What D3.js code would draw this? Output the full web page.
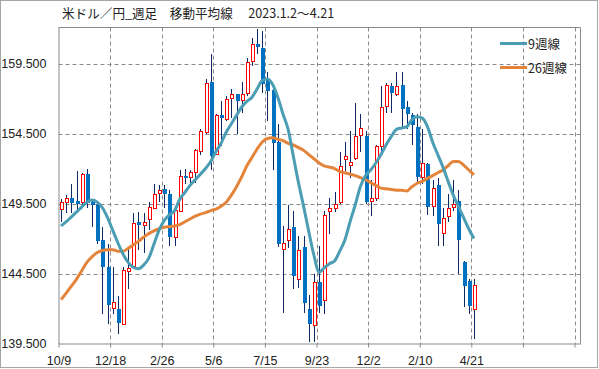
<!DOCTYPE html>
<html>
<head>
<meta charset="utf-8">
<script src="https://cdn.jsdelivr.net/npm/d3@7"></script>
<style>
  html, body { margin: 0; padding: 0; background: #fff; }
  svg { display: block; }
  text { font-family: "Liberation Sans", Arial, sans-serif; fill: #222; }
  .jp { font-family: "Noto Sans CJK JP", sans-serif; }
</style>
</head>
<body>
<div id="chart"></div>
<script>
// USD/JPY weekly candles, 2023-10-09 .. 2025-04-21
const tickLabels = ["10/9", "12/18", "2/26", "5/6", "7/15", "9/23", "12/2", "2/10", "4/21"];
const yTicks = [139.5, 144.5, 149.5, 154.5, 159.5];

const open = [
  149.1, 149.6, 149.9, 149.65, 149.6, 151.6, 149.6, 149.4, 146.9, 145.0,
  142.1, 142.0, 140.9, 144.7, 145.0, 148.15, 147.95, 148.4, 149.2, 150.2,
  150.55, 150.2, 147.1, 149.0, 151.45, 151.4, 151.7, 153.2, 154.6, 158.2,
  153.0, 155.85, 155.6, 157.0, 157.3, 156.9, 157.4, 159.7, 160.9, 160.6,
  158.4, 157.6, 153.9, 146.3, 146.9, 147.8, 144.1, 146.4, 142.0, 140.8,
  143.9, 142.6, 149.0, 149.2, 149.6, 152.7, 152.3, 152.7, 154.4, 154.3,
  149.7, 149.9, 153.6, 156.5, 157.9, 157.3, 157.95, 156.4, 155.8, 155.0,
  151.4, 152.3, 149.3, 150.8, 147.4, 148.6, 149.3, 149.7, 145.3, 144.0,
  141.9
];
const high = [
  149.8, 150.1, 150.9, 151.8, 151.7, 152.0, 149.8, 149.7, 147.8, 146.6,
  145.0, 142.9, 145.0, 146.4, 148.8, 148.9, 148.8, 149.6, 150.9, 150.8,
  150.85, 150.5, 149.2, 151.9, 151.95, 151.9, 153.4, 154.8, 158.4, 160.2,
  155.9, 156.8, 157.2, 157.7, 157.3, 158.2, 159.9, 161.3, 161.95, 161.8,
  158.9, 157.9, 155.2, 147.9, 149.4, 149.0, 147.2, 147.2, 143.0, 144.5,
  146.5, 149.0, 149.9, 150.3, 153.2, 153.9, 154.7, 156.7, 155.9, 154.7,
  151.2, 153.7, 157.9, 158.1, 158.1, 158.9, 158.9, 156.8, 156.0, 155.9,
  154.8, 152.4, 151.2, 151.3, 149.2, 150.2, 151.2, 150.5, 145.4, 144.1,
  144.1
];
const low = [
  148.2, 148.8, 148.8, 148.8, 149.2, 149.2, 147.8, 146.6, 141.6, 140.9,
  141.6, 140.2, 140.8, 143.4, 144.9, 146.2, 146.0, 147.6, 149.2, 149.6,
  149.2, 146.5, 146.5, 148.9, 150.9, 150.8, 151.0, 153.0, 154.5, 151.9,
  153.0, 153.6, 155.4, 155.6, 154.5, 156.0, 157.2, 159.3, 160.2, 157.4,
  155.4, 151.9, 146.4, 141.7, 146.3, 143.4, 143.5, 141.7, 139.6, 139.6,
  141.7, 141.6, 147.3, 148.9, 149.5, 151.8, 151.3, 152.6, 153.2, 149.5,
  148.6, 149.7, 153.1, 156.0, 156.0, 157.2, 154.9, 154.8, 153.7, 150.9,
  150.9, 148.7, 148.6, 146.5, 146.5, 148.2, 149.0, 144.5, 142.1, 141.6,
  139.85
];
const close = [
  149.6, 149.9, 149.55, 149.45, 151.6, 149.5, 149.4, 146.8, 144.95, 142.3,
  142.5, 141.0, 144.75, 144.9, 148.1, 147.9, 148.15, 149.25, 150.2, 150.45,
  150.2, 147.1, 149.05, 151.5, 151.35, 151.75, 153.3, 154.65, 158.1, 152.9,
  155.8, 155.65, 157.0, 157.3, 156.8, 157.3, 159.6, 160.9, 160.7, 158.0,
  157.55, 153.8, 146.6, 146.7, 147.7, 144.3, 146.2, 142.4, 140.9, 143.9,
  142.2, 148.7, 149.2, 149.5, 152.2, 152.9, 152.5, 154.3, 154.9, 149.6,
  149.9, 153.6, 156.4, 158.0, 157.4, 157.9, 156.2, 155.9, 155.1, 151.4,
  152.4, 149.2, 150.6, 148.0, 148.5, 149.2, 149.5, 146.9, 143.6, 142.2,
  143.65
];
const ma9 = [
  147.9, 148.2, 148.55, 148.9, 149.25, 149.6, 149.75, 149.6, 149.2, 148.5,
  147.6, 146.7, 145.9, 145.3, 144.95, 144.85, 145.1, 145.6, 146.6, 147.6,
  148.3, 148.7, 149.0, 149.8, 150.3, 150.8, 151.2, 151.6, 152.0, 152.5,
  153.2, 153.8, 154.6, 155.2, 155.8, 156.4, 156.8, 157.1, 157.7, 158.3,
  158.4, 158.0, 157.1, 155.9, 154.8, 152.9, 151.0, 149.3, 147.5, 145.8,
  144.6, 144.9, 145.2, 145.4, 146.1, 146.9, 148.2, 149.4, 150.7, 151.5,
  151.9, 152.4, 153.0, 153.7, 154.3, 154.8, 154.9, 155.0, 155.5, 155.7,
  155.6, 155.0, 153.9, 153.0, 152.1, 151.1, 150.1, 149.3, 148.5, 147.7,
  147.0
];
const ma26 = [
  142.65, 143.1, 143.6, 144.1, 144.7, 145.3, 145.7, 146.0, 146.15, 146.2,
  146.2, 146.1, 146.1, 146.3, 146.55, 146.8, 147.1, 147.35, 147.55, 147.7,
  147.8, 147.85, 147.9, 148.0, 148.2, 148.4, 148.6, 148.75, 148.85, 149.0,
  149.1, 149.3, 149.6, 150.1, 150.7, 151.4, 152.2, 152.8, 153.4, 153.9,
  154.15, 154.2, 154.1, 154.0, 153.8, 153.7, 153.5, 153.3, 153.0, 152.7,
  152.4, 152.2, 152.1, 152.0, 151.8, 151.7, 151.6, 151.5, 151.35, 151.2,
  151.0, 150.8, 150.6, 150.55, 150.5, 150.45, 150.45, 150.4, 150.7, 150.95,
  151.1, 151.3, 151.5, 151.7, 151.9, 152.2, 152.5, 152.5, 152.25, 151.9,
  151.55
];

const W = 599, H = 369;
const plot = { left: 58.5, right: 580.5, top: 27.5, bottom: 343.5 };
const GRID = "#8a8a8a", UP = "#ff0000", DOWN = "#0070c0", WICK = "#0d2a66";
const C9 = "#4a9db3", C26 = "#e3843a";

const candles = open.map((o, i) => ({ i, o, h: high[i], l: low[i], c: close[i] }));

const svg = d3.select("#chart").append("svg")
  .attr("width", W).attr("height", H).attr("viewBox", `0 0 ${W} ${H}`);

const x = d3.scaleLinear().domain([0, 101.16]).range([plot.left, plot.right]);
const y = d3.scaleLinear().domain([139.5, 162.08]).range([plot.bottom, plot.top]);

// outer frame
svg.append("rect").attr("x", 0.5).attr("y", 0.5).attr("width", W - 2).attr("height", H - 2)
  .attr("fill", "#fff").attr("stroke", "#a6a6a6");

// grid
const vTicks = d3.range(0, 101, 10);
svg.append("g").selectAll("line").data(vTicks.slice(1)).join("line")
  .attr("x1", d => Math.round(x(d)) + 0.5).attr("x2", d => Math.round(x(d)) + 0.5)
  .attr("y1", plot.top).attr("y2", plot.bottom)
  .attr("stroke", GRID).attr("stroke-dasharray", "4,3");
svg.append("g").selectAll("line").data(yTicks.slice(1)).join("line")
  .attr("x1", plot.left).attr("x2", plot.right)
  .attr("y1", d => Math.round(y(d)) + 0.5).attr("y2", d => Math.round(y(d)) + 0.5)
  .attr("stroke", GRID).attr("stroke-dasharray", "4,3");

// plot frame top/right
svg.append("line").attr("x1", plot.left).attr("x2", plot.right).attr("y1", plot.top).attr("y2", plot.top)
  .attr("stroke", GRID);
svg.append("line").attr("x1", plot.right).attr("x2", plot.right).attr("y1", plot.top).attr("y2", plot.bottom)
  .attr("stroke", GRID);

// axes
const xAxis = svg.append("g").attr("transform", `translate(0,${plot.bottom})`)
  .call(d3.axisBottom(x).tickValues(vTicks).tickSize(4).tickSizeOuter(0)
    .tickFormat((d, k) => tickLabels[k] || ""));
xAxis.select(".domain").attr("stroke", GRID);
xAxis.selectAll(".tick line").attr("stroke", GRID);
xAxis.selectAll(".tick text").attr("dy", null).attr("y", 21)
  .attr("font-size", 12.5).attr("fill", "#222").attr("font-family", "Liberation Sans, Arial, sans-serif");

const yAxis = svg.append("g").attr("transform", `translate(${plot.left},0)`)
  .call(d3.axisLeft(y).tickValues(yTicks).tickSize(0).tickPadding(12).tickFormat(d3.format(".3f")));
yAxis.select(".domain").attr("stroke", GRID);
yAxis.selectAll(".tick text").attr("font-size", 12.5).attr("fill", "#222")
  .attr("font-family", "Liberation Sans, Arial, sans-serif");

// candles
const cx = d => Math.round(x(d.i + 0.5));
const cg = svg.append("g").attr("shape-rendering", "crispEdges");
cg.selectAll("line").data(candles).join("line")
  .attr("x1", d => cx(d) + 0.5).attr("x2", d => cx(d) + 0.5)
  .attr("y1", d => Math.round(y(d.h))).attr("y2", d => Math.round(y(d.l)))
  .attr("stroke", WICK).attr("stroke-width", 1);
cg.selectAll("rect").data(candles).join("rect")
  .attr("x", d => d.c >= d.o ? cx(d) - 1 + 0.5 : cx(d) - 1.5)
  .attr("width", d => d.c >= d.o ? 3 : 4)
  .attr("y", d => Math.round(y(Math.max(d.o, d.c))) + (d.c >= d.o ? 0.5 : 0))
  .attr("height", d => Math.max(2, Math.round(Math.abs(y(d.o) - y(d.c)))))
  .attr("fill", d => d.c >= d.o ? "#fff" : DOWN)
  .attr("stroke", d => d.c >= d.o ? UP : "none")
  .attr("stroke-width", 1);

// moving averages
const line = d3.line().x((v, i) => x(i + 0.5)).y(v => y(v)).curve(d3.curveMonotoneX);
svg.append("path").datum(ma26).attr("d", line)
  .attr("fill", "none").attr("stroke", C26).attr("stroke-width", 3).attr("stroke-linejoin", "round");
svg.append("path").datum(ma9).attr("d", line)
  .attr("fill", "none").attr("stroke", C9).attr("stroke-width", 3).attr("stroke-linejoin", "round");

// legend
const legend = [["9週線", C9], ["26週線", C26]];
const lg = svg.append("g").selectAll("g").data(legend).join("g")
  .attr("transform", (d, k) => `translate(500,${43.5 + k * 24})`);
lg.append("line").attr("x1", 0).attr("x2", 27).attr("stroke", d => d[1]).attr("stroke-width", 3);
lg.append("text").attr("class", "jp").attr("x", 28).attr("y", 5).attr("font-size", 12.5)
  .text(d => d[0]);

// title
svg.append("text").attr("class", "jp").attr("x", 62).attr("y", 18).attr("font-size", 12.6)
  .attr("xml:space", "preserve")
  .text("米ドル／円_週足　移動平均線　 2023.1.2～4.21");
</script>
</body>
</html>
